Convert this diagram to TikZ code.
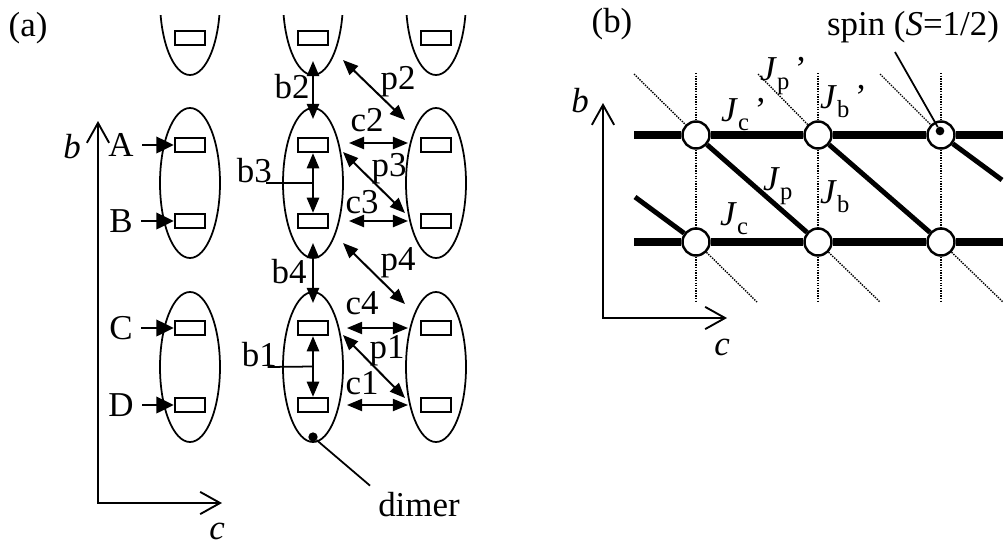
\documentclass[tikz,border=0pt]{standalone}
\usepackage{fontspec}
\setmainfont{Liberation Serif}
\usetikzlibrary{arrows.meta,positioning,calc,shapes.geometric}
\newcommand\jsub[1]{\raisebox{-0.26em}{\fontsize{21}{21}\selectfont #1}}

\begin{document}
\begin{tikzpicture}[
  x=0.03cm, y=-0.03cm,
  font=\fontsize{29.8}{34}\selectfont,
  dimer/.style={draw, ellipse, line width=1.5pt, minimum width=1.8cm,
              minimum height=4.5cm, inner sep=0pt},
  site/.style={draw, rectangle, line width=2pt, minimum width=0.9cm,
              minimum height=0.42cm, inner sep=0pt},
  spin/.style={draw, circle, line width=2.1pt, fill=white,
              minimum size=0.81cm, inner sep=0pt},
  blob/.style={circle, fill=black, minimum size=0.28cm, inner sep=0pt},
  lbl/.style={inner sep=0pt},
  ptr/.style={-{Triangle[length=15pt, width=14pt]}, line width=2.4pt},
  dbl/.style={{Triangle[length=13pt, width=10.5pt]}-{Triangle[length=13pt, width=10.5pt]},
              line width=1.7pt},
  axis/.style={{Straight Barb[length=17pt, width=19pt]}-{Straight Barb[length=17pt, width=19pt]},
              line width=1.6pt},
  bond/.style={line width=6pt},
  bondp/.style={line width=4.2pt},
  weak/.style={densely dotted, line width=1.2pt},
  lead/.style={line width=1.5pt},
]
\useasboundingbox (0,0) rectangle (1005,548);

% === (a): dimers along b ===
\node[lbl] (ta) at (28,28) {(a)};

\begin{scope}
  \clip (0,15) rectangle (1005,548);
  \foreach \c/\x in {L/190, M/313, R/436}
    \node[dimer] (e\c1) at (\x,0) {};
\end{scope}

\foreach \c/\x in {L/190, M/313, R/436} {
  \node[dimer] (e\c2) at (\x,183) {};
  \node[dimer] (e\c3) at (\x,367) {};
  \foreach \n/\y in {1/38, 2/145, 3/221, 4/328, 5/405}
    \node[site] (q\c\n) at (\x,\y) {};
}

% sites A-D
\foreach \s/\n in {A/2, B/3, C/4, D/5} {
  \node[lbl] (l\s) at ($(qL\n)+(-69,0)$) {\s};
  \draw[ptr, shorten <=7pt] (l\s) -- (qL\n);
}

% axes
\coordinate (o1) at (98,503);
\coordinate (yb1) at (98,121);
\coordinate (xc1) at (222,503);
\draw[axis] (yb1) -- (o1) -- (xc1);
\node[lbl] (ab) at (72,147) {\textit{b}};
\node[lbl] (ac) at (217,531) {\textit{c}};

% Arrows along b
\draw[dbl] ($(eM1)+(0,61)$) -- ($(eM2)+(0,-64)$);
\draw[dbl] (qM2) -- coordinate (k3) (qM3);
\draw[dbl] ($(eM2)+(0,60)$) -- ($(eM3)+(0,-64)$);
\draw[dbl] (qM4) -- coordinate (k1) (qM5);

\node[lbl] (lb2) at (292,87) {b2};
\node[lbl, anchor=south east] (lb3) at (272,183) {b3};
\node[lbl] (lb4) at (289,272) {b4};
\node[lbl, anchor=south east] (lb1) at (277,367) {b1};
\draw[lead] ([xshift=-5pt]lb3.south east) -- (k3);
\draw[lead] ([xshift=-8pt]lb1.south east) -- (k1);

% Arrows along c
\draw[dbl] ($(qM2)+(36,-2)$) -- ($(qR2)+(-28,-2)$);
\draw[dbl] ($(qM3)+(36,0)$) -- ($(qR3)+(-28,0)$);
\draw[dbl, line width=1.2pt] ($(qM4)+(34,0)$) -- ($(qR4)+(-28,0)$);
\draw[dbl, line width=1.2pt] ($(qM5)+(34,0)$) -- ($(qR5)+(-28,0)$);

\node[lbl] (lc2) at (367,120) {c2};
\node[lbl] (lc3) at (362,202) {c3};
\node[lbl] (lc4) at (362,303) {c4};
\node[lbl] (lc1) at (362,383) {c1};

% diagonal arrows
\draw[dbl] ($(eM1)+(30,60)$) -- ($(eR2)+(-31,-63)$);
\draw[dbl] ($(qM2)+(30,7)$) -- ($(qR3)+(-31,-8)$);
\draw[dbl] ($(eM2)+(30,60)$) -- ($(eR3)+(-31,-63)$);
\draw[dbl] ($(qM4)+(30,7)$) -- ($(qR5)+(-31,-7)$);

\node[lbl] (lp2) at (398,82) {p2};
\node[lbl] (lp3) at (389,169) {p3};
\node[lbl] (lp4) at (398,263) {p4};
\node[lbl] (lp1) at (387,351) {p1};

% dimer mark
\node[blob] (dm) at ($(eM3)+(0,70)$) {};
\node[lbl] (ldimer) at (419,505) {dimer};
\draw[lead, shorten >=9pt] (dm) -- (ldimer.north west);

% === (b): spin ladder ===
\node[lbl] (tb) at (612,24) {(b)};
\node[lbl] (lspin) at (913,27) {spin (\textit{S}=1/2)};

\foreach \i/\x in {1/696, 2/818, 3/941} {
  \node[spin] (su\i) at (\x,135) {};
  \node[spin] (sl\i) at (\x,242) {};
}

% chains
\coordinate (hl1) at (634,135);
\coordinate (hr1) at (1003,135);
\coordinate (hl2) at (634,242);
\coordinate (hr2) at (1003,242);
\draw[bond] (hl1) -- (su1) -- (su2) -- (su3) -- (hr1);
\draw[bond] (hl2) -- (sl1) -- (sl2) -- (sl3) -- (hr2);

% weak bonds
\foreach \i/\x/\a/\b in {1/696/634/757, 2/818/758/880, 3/941/880/1003} {
  \coordinate (vt\i) at (\x,73);
  \coordinate (vb\i) at (\x,302);
  \coordinate (dt\i) at (\a,74);
  \coordinate (db\i) at (\b,302);
  \draw[weak] (vt\i) -- (su\i) -- (sl\i) -- (vb\i);
  \draw[weak] (dt\i) -- (su\i);
  \draw[weak] (sl\i) -- (db\i);
}

% diagonal bonds
\coordinate (ds) at (635,197);
\coordinate (de) at (1002,180);
\draw[bondp] (ds) -- (sl1);
\draw[bondp] (su1) -- (sl2);
\draw[bondp] (su2) -- (sl3);
\draw[bondp] (su3) -- (de);

% spin mark
\node[blob, minimum size=0.26cm] (sd) at ($(su3)+(-1,-4)$) {};
\coordinate (sp) at (895,52);
\draw[lead] (sp) -- (sd);

% axes
\coordinate (o2) at (603,318);
\coordinate (yb2) at (603,103);
\coordinate (xc2) at (727,318);
\draw[axis] (yb2) -- (o2) -- (xc2);
\node[lbl] (bb) at (580,101) {\textit{b}};
\node[lbl] (bc) at (722,347) {\textit{c}};

% couplings
\node[lbl, anchor=base west] (jc1) at (721,121) {\textit{J}\jsub{c}\,'};
\node[lbl, anchor=base west] (jp1) at (760,80) {\textit{J}\jsub{p}\,'};
\node[lbl, anchor=base west] (jb1) at (820,108) {\textit{J}\jsub{b}\,'};
\node[lbl, anchor=base west] (jp) at (763,190) {\textit{J}\jsub{p}};
\node[lbl, anchor=base west] (jb) at (820,203) {\textit{J}\jsub{b}};
\node[lbl, anchor=base west] (jc) at (720,225) {\textit{J}\jsub{c}};

\end{tikzpicture}
\end{document}
